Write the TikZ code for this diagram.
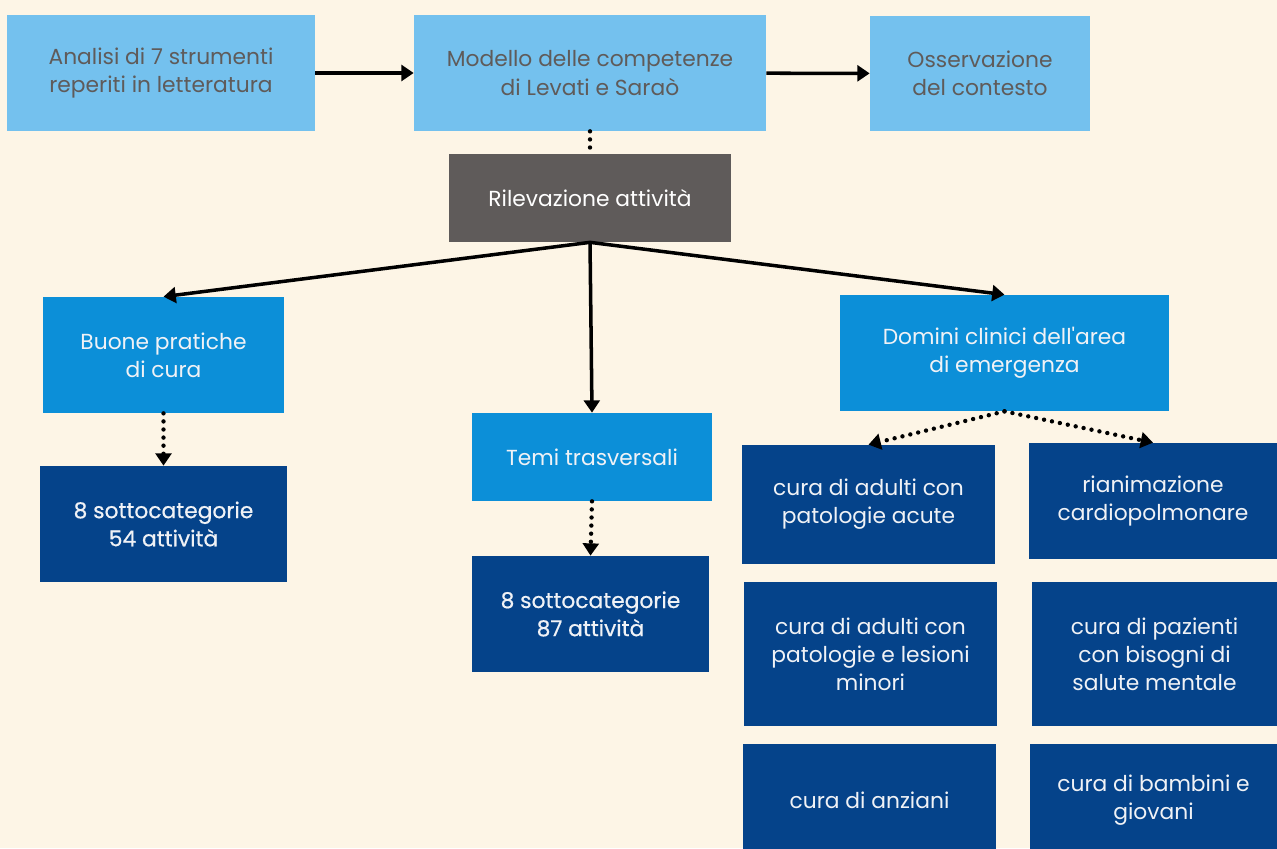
\documentclass[tikz,border=0pt]{standalone}
\usepackage{fontspec}
\setmainfont{Poppins}
\usetikzlibrary{arrows.meta}

\definecolor{bgcream}{RGB}{253,245,230}
\definecolor{lightblue}{RGB}{116,193,238}
\definecolor{midblue}{RGB}{12,143,216}
\definecolor{darkblue}{RGB}{5,67,138}
\definecolor{boxgray}{RGB}{95,91,90}
\definecolor{textgray}{RGB}{95,91,90}
\definecolor{softwhite}{RGB}{240,242,246}

\begin{document}
\begin{tikzpicture}[x=0.02cm, y=-0.02cm,
  box/.style={align=center, inner sep=0pt, font=\fontsize{12.4}{16}\selectfont},
  topbox/.style={box, fill=lightblue, text=textgray, minimum height=2.32cm},
  graybox/.style={box, fill=boxgray, text=white, minimum height=1.76cm},
  midbox/.style={box, fill=midblue, text=softwhite},
  darkbox/.style={box, fill=darkblue, text=softwhite},
  countbox/.style={darkbox, font=\fontsize{12.4}{16}\selectfont\addfontfeature{FakeBold=0.6}},
  link/.style={-{Triangle[length=7pt,width=9pt]}, line width=2pt},
  dotline/.style={line width=2.5pt, line cap=round, dash pattern=on 0pt off 4.6pt},
  dotlink/.style={dotline, -{Triangle[length=7pt,width=9pt]}}]

  % Background
  \fill[bgcream] (0,0) rectangle (1277,848);
  \useasboundingbox (0,0) rectangle (1277,848);

  % Top row
  \node[topbox, minimum width=6.16cm] (analisi) at (161,73) {Analisi di 7 strumenti\\reperiti in letteratura};
  \node[topbox, minimum width=7.04cm] (modello) at (590,73) {Modello delle competenze\\di Levati e Saraò};
  \node[topbox, minimum width=4.4cm] (osservazione) at (980,73.5) {Osservazione\\del contesto};

  % Central node
  \node[graybox, minimum width=5.64cm] (rilevazione) at (590,198) {Rilevazione attività};

  % Categories
  \node[midbox, minimum width=4.82cm, minimum height=2.32cm] (buone) at (163.5,355) {Buone pratiche\\di cura};
  \node[midbox, minimum width=4.8cm, minimum height=1.76cm] (temi) at (592,457) {Temi trasversali};
  \node[midbox, minimum width=6.58cm, minimum height=2.32cm] (domini) at (1004.5,353) {Domini clinici dell\textquotesingle area\\di emergenza};

  % Subcategories
  \node[countbox, minimum width=4.94cm, minimum height=2.32cm] (sottobuone) at (163.5,524) {8 sottocategorie\\54 attività};
  \node[countbox, minimum width=4.74cm, minimum height=2.32cm] (sottotemi) at (590.5,614) {8 sottocategorie\\87 attività};

  % Clinical domains
  \node[darkbox, minimum width=5.06cm, minimum height=2.38cm] (acute) at (868.5,504.5) {cura di adulti con\\patologie acute};
  \node[darkbox, minimum width=4.96cm, minimum height=2.32cm] (rianimazione) at (1153,501) {rianimazione\\cardiopolmonare};
  \node[darkbox, minimum width=5.06cm, minimum height=2.88cm] (minori) at (870.5,654) {cura di adulti con\\patologie e lesioni\\minori};
  \node[darkbox, minimum width=4.9cm, minimum height=2.88cm] (mentale) at (1154.5,654) {cura di pazienti\\con bisogni di\\salute mentale};
  \node[darkbox, minimum width=5.06cm, minimum height=2.24cm] (anziani) at (869.5,800) {cura di anziani};
  \node[darkbox, minimum width=4.94cm, minimum height=2.24cm] (bambini) at (1153.5,800) {cura di bambini e\\giovani};

  % Arrows
  \draw[link] (analisi) -- (modello);
  \draw[link] (modello) -- (osservazione);
  \draw[dotline] (modello.south) -- (rilevazione.north);
  \draw[link] (rilevazione.south) -- (buone.north);
  \draw[link] (rilevazione.south) -- (temi.north);
  \draw[link] (rilevazione.south) -- (domini.north);

  % Dotted arrows
  \draw[dotlink] (buone.south) -- (sottobuone.north);
  \draw[dotlink] (temi.south) -- (sottotemi.north);
  \draw[dotlink] (domini.south) -- (acute.north);
  \draw[dotlink] (domini.south) -- (rianimazione.north);

\end{tikzpicture}
\end{document}
